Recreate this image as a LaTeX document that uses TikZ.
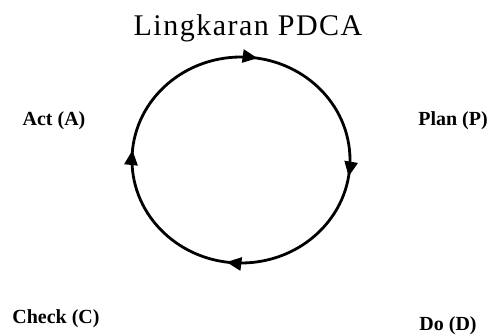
\documentclass[tikz,border=0pt]{standalone}
\usepackage{fontspec}
\setmainfont{Liberation Serif}
\newfontfamily\titlefont[LetterSpace=5]{Liberation Serif}
\usetikzlibrary{arrows.meta, decorations.markings}

\begin{document}
\begin{tikzpicture}[x=1pt, y=-1pt, >=Triangle]

    \useasboundingbox (0,0) rectangle (490,335);

    % --- 1. Title ---
    \node [anchor=base, inner sep=0pt] (judul) at (248,35)
        {\titlefont\fontsize{30}{34}\selectfont Lingkaran PDCA};

    % --- 2. Cycle (ellipse with four arrow heads) ---
    \draw [line width=2.8pt,
        postaction={decorate},
        decoration={markings,
            mark=at position 0.025 with {\arrow{Triangle[length=15pt,width=13pt]}},
            mark=at position 0.272 with {\arrow{Triangle[length=15pt,width=13pt]}},
            mark=at position 0.515 with {\arrow{Triangle[length=15pt,width=13pt]}},
            mark=at position 0.775 with {\arrow{Triangle[length=15pt,width=13pt]}}}]
        (241,160) ellipse [x radius=109, y radius=103];

    % --- 3. Labels ---
    \node [anchor=base, inner sep=0pt, font=\bfseries\fontsize{20}{24}\selectfont] (act) at (54,125) {Act (A)};
    \node [anchor=base, inner sep=0pt, font=\bfseries\fontsize{20}{24}\selectfont] (plan) at (453,125) {Plan (P)};
    \node [anchor=base, inner sep=0pt, font=\bfseries\fontsize{20}{24}\selectfont] (check) at (56,323) {Check (C)};
    \node [anchor=base, inner sep=0pt, font=\bfseries\fontsize{20}{24}\selectfont] (do) at (448,330) {Do (D)};

\end{tikzpicture}
\end{document}
